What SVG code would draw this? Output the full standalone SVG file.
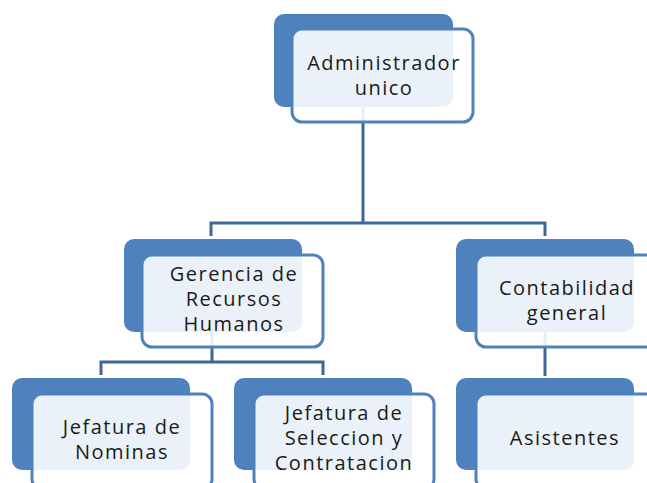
<svg xmlns="http://www.w3.org/2000/svg" width="647" height="483" viewBox="0 0 647 483">
<style>
.back{fill:#4f81bd}
.front{fill:#ffffff;fill-opacity:0.89;stroke:#4f81bd;stroke-width:3}
.conn{fill:none;stroke:#3f6797;stroke-width:3}
text{font-family:"Open Sans","DejaVu Sans",sans-serif;font-size:20px;letter-spacing:1.5px;fill:#1a1a1a;text-anchor:middle}
</style>
<rect width="647" height="483" fill="#ffffff"/>
<g id="connectors">
<path class="conn" d="M363,107 V223 M211,236 V223 H545 V236"/>
<path class="conn" d="M212,332 V362 M101,375 V362 H323 V375"/>
<path class="conn" d="M545,332 V376"/>
</g>
<g id="n-admin">
<rect class="back" x="274" y="14" width="179" height="93" rx="10"/>
<rect class="front" x="292" y="29" width="181" height="93" rx="10"/>
<text x="384" y="70">Administrador</text>
<text x="384" y="95">unico</text>
</g>
<g id="n-gerencia">
<rect class="back" x="124" y="239" width="178" height="93" rx="10"/>
<rect class="front" x="142" y="255" width="181" height="92" rx="10"/>
<text x="234" y="281">Gerencia de</text>
<text x="234" y="306">Recursos</text>
<text x="234" y="331">Humanos</text>
</g>
<g id="n-contab">
<rect class="back" x="456" y="239" width="178" height="93" rx="10"/>
<rect class="front" x="476" y="255" width="181" height="92" rx="10"/>
<text x="567" y="295">Contabilidad</text>
<text x="567" y="320">general</text>
</g>
<g id="n-nominas">
<rect class="back" x="12" y="378" width="178" height="92" rx="10"/>
<rect class="front" x="32" y="394" width="180" height="95" rx="10"/>
<text x="122" y="434">Jefatura de</text>
<text x="122" y="459">Nominas</text>
</g>
<g id="n-seleccion">
<rect class="back" x="234" y="378" width="178" height="92" rx="10"/>
<rect class="front" x="254" y="394" width="180" height="95" rx="10"/>
<text x="344" y="420">Jefatura de</text>
<text x="344" y="445">Seleccion y</text>
<text x="344" y="470">Contratacion</text>
</g>
<g id="n-asistentes">
<rect class="back" x="456" y="378" width="178" height="92" rx="10"/>
<rect class="front" x="476" y="394" width="180" height="95" rx="10"/>
<text x="565" y="445">Asistentes</text>
</g>
</svg>
